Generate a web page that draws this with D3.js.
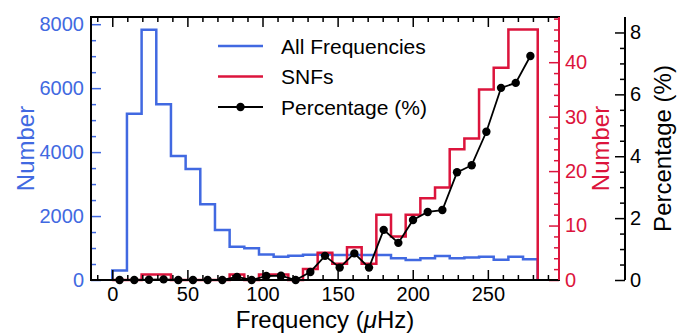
<!DOCTYPE html>
<html>
<head>
<meta charset="utf-8">
<script src="https://cdn.jsdelivr.net/npm/d3@7"></script>
<style>
  body { margin: 0; background: #fff; }
  text { font-family: "Liberation Sans", Arial, sans-serif; }
</style>
</head>
<body>
<div id="chart"></div>
<script>
// bin edges (uHz), 29 bins up to the Nyquist frequency
const binEdges = [0, 9.77, 19.53, 29.30, 39.06, 48.83, 58.59, 68.36, 78.12, 87.89,
    97.66, 107.42, 117.19, 126.95, 136.72, 146.48, 156.25, 166.01, 175.78, 185.54,
    195.31, 205.08, 214.84, 224.61, 234.37, 244.14, 253.90, 263.67, 273.43, 283.20];

// counts of all frequencies per bin
const allCounts = [300, 5200, 7830, 5500, 3880, 3470, 2370, 1560, 1040, 990,
    800, 730, 760, 790, 795, 780, 780, 780, 780, 680,
    625, 680, 750, 680, 700, 730, 630, 730, 650];

// counts of SNFs per bin
const snfCounts = [0, 0, 1, 1, 0, 0, 0, 0, 1, 0,
    1, 1, 0, 2, 5, 3, 6, 3, 12, 8,
    12, 15, 17, 24, 26, 35, 39, 46, 46];

// percentage per bin
const percent = [0, 0, 0.01, 0.02, 0, 0, 0, 0, 0.1, 0,
    0.13, 0.14, 0, 0.26, 0.78, 0.4, 0.86, 0.4, 1.62, 1.2,
    1.94, 2.2, 2.26, 3.48, 3.71, 4.79, 6.21, 6.37, 7.24];

const xMajor = [0, 50, 100, 150, 200, 250];
const leftMajor = [0, 2000, 4000, 6000, 8000];
const redMajor = [0, 10, 20, 30, 40];
const pctMajor = [0, 2, 4, 6, 8];
const legendLabels = ["All Frequencies", "SNFs", "Percentage (%)"];

const blue = "#4169e1", red = "#dc143c";
const W = 691, H = 336;
const plot = {left: 91, right: 559, top: 17, bottom: 280};
const pctAxisX = 625;

const svg = d3.select("#chart").append("svg")
    .attr("width", W).attr("height", H);

// scales
const x = d3.scaleLinear().domain([-14.16, 297.36]).range([plot.left, plot.right]);
const yL = d3.scaleLinear().domain([0, 8225]).range([plot.bottom, plot.top]);
const yR = d3.scaleLinear().domain([0, 48.3]).range([plot.bottom, plot.top]);
const yP = d3.scaleLinear().domain([0, 8.5]).range([plot.bottom, plot.top]);

// step outline like matplotlib histtype='step'
function stepPoints(counts) {
    let pts = [[binEdges[0], 0]];
    counts.forEach((c, i) => {
        pts.push([binEdges[i], c]);
        pts.push([binEdges[i + 1], c]);
    });
    pts.push([binEdges[binEdges.length - 1], 0]);
    return pts;
}

svg.append("path")
    .datum(stepPoints(allCounts))
    .attr("fill", "none").attr("stroke", blue).attr("stroke-width", 2.5)
    .attr("d", d3.line().x(d => x(d[0])).y(d => yL(d[1])));

svg.append("path")
    .datum(stepPoints(snfCounts))
    .attr("fill", "none").attr("stroke", red).attr("stroke-width", 2.5)
    .attr("d", d3.line().x(d => x(d[0])).y(d => yR(d[1])));

// percentage line with markers
const centers = percent.map((p, i) => [(binEdges[i] + binEdges[i + 1]) / 2, p]);
svg.append("path")
    .datum(centers)
    .attr("fill", "none").attr("stroke", "#000").attr("stroke-width", 1.8)
    .attr("d", d3.line().x(d => x(d[0])).y(d => yP(d[1])));
svg.selectAll(".pt").data(centers).enter().append("circle")
    .attr("cx", d => x(d[0])).attr("cy", d => yP(d[1]))
    .attr("r", 4.2).attr("fill", "#000");

// axes helpers
function styleAxis(g, color, fontSize) {
    g.select(".domain").remove();
    g.selectAll("line").attr("stroke", color).attr("stroke-width", 1.5);
    g.selectAll("text").attr("fill", color)
        .style("font-size", fontSize + "px")
        .style("font-family", "'Liberation Sans', Arial, sans-serif");
}

const xMinor = d3.range(-10, 291, 10).filter(v => v % 50 !== 0);

// bottom x axis
svg.append("g").attr("transform", `translate(0,${plot.bottom})`)
    .call(d3.axisBottom(x).tickValues(xMajor).tickSize(-10).tickPadding(7).tickFormat(d3.format("d")))
    .call(g => styleAxis(g, "#000", 20));
svg.append("g").attr("transform", `translate(0,${plot.bottom})`)
    .call(d3.axisBottom(x).tickValues(xMinor).tickSize(-5).tickFormat(""))
    .call(g => styleAxis(g, "#000", 20));
// top x ticks
svg.append("g").attr("transform", `translate(0,${plot.top})`)
    .call(d3.axisTop(x).tickValues(xMajor).tickSize(-10).tickFormat(""))
    .call(g => styleAxis(g, "#000", 20));
svg.append("g").attr("transform", `translate(0,${plot.top})`)
    .call(d3.axisTop(x).tickValues(xMinor).tickSize(-5).tickFormat(""))
    .call(g => styleAxis(g, "#000", 20));

// left axis (blue)
svg.append("g").attr("transform", `translate(${plot.left},0)`)
    .call(d3.axisLeft(yL).tickValues(leftMajor).tickSize(-10).tickPadding(7).tickFormat(d3.format("d")))
    .call(g => styleAxis(g, blue, 20));
svg.append("g").attr("transform", `translate(${plot.left},0)`)
    .call(d3.axisLeft(yL).tickValues(d3.range(500, 8001, 500).filter(v => v % 2000 !== 0)).tickSize(-5).tickFormat(""))
    .call(g => styleAxis(g, blue, 20));

// right axis (red)
svg.append("g").attr("transform", `translate(${plot.right},0)`)
    .call(d3.axisRight(yR).tickValues(redMajor).tickSize(-10).tickPadding(6).tickFormat(d3.format("d")))
    .call(g => styleAxis(g, red, 20));
svg.append("g").attr("transform", `translate(${plot.right},0)`)
    .call(d3.axisRight(yR).tickValues(d3.range(2, 49, 2).filter(v => v % 10 !== 0)).tickSize(-5).tickFormat(""))
    .call(g => styleAxis(g, red, 20));

// percentage axis (black, offset)
svg.append("g").attr("transform", `translate(${pctAxisX},0)`)
    .call(d3.axisRight(yP).tickValues(pctMajor).tickSize(-10).tickPadding(5).tickFormat(d3.format("d")))
    .call(g => styleAxis(g, "#000", 20));
svg.append("g").attr("transform", `translate(${pctAxisX},0)`)
    .call(d3.axisRight(yP).tickValues(d3.range(0.5, 8, 0.5).filter(v => v % 2 !== 0)).tickSize(-5).tickFormat(""))
    .call(g => styleAxis(g, "#000", 20));

// spines
svg.append("rect")
    .attr("x", plot.left).attr("y", plot.top)
    .attr("width", plot.right - plot.left).attr("height", plot.bottom - plot.top)
    .attr("fill", "none").attr("stroke", "#000").attr("stroke-width", 2);
svg.append("line")
    .attr("x1", plot.right).attr("x2", plot.right).attr("y1", plot.top).attr("y2", plot.bottom)
    .attr("stroke", red).attr("stroke-width", 2);
svg.append("line")
    .attr("x1", pctAxisX).attr("x2", pctAxisX).attr("y1", plot.top).attr("y2", plot.bottom)
    .attr("stroke", "#000").attr("stroke-width", 2);

// axis labels
svg.append("text")
    .attr("transform", `translate(25,${(plot.top + plot.bottom) / 2}) rotate(-90)`)
    .attr("text-anchor", "middle").attr("dominant-baseline", "central")
    .attr("fill", blue).style("font-size", "24px").text("Number");
svg.append("text")
    .attr("transform", `translate(600,${(plot.top + plot.bottom) / 2}) rotate(-90)`)
    .attr("text-anchor", "middle").attr("dominant-baseline", "central")
    .attr("fill", red).style("font-size", "24px").text("Number");
svg.append("text")
    .attr("transform", `translate(662,${(plot.top + plot.bottom) / 2}) rotate(-90)`)
    .attr("text-anchor", "middle").attr("dominant-baseline", "central")
    .attr("fill", "#000").style("font-size", "24px").text("Percentage (%)");
const xl = svg.append("text")
    .attr("x", (plot.left + plot.right) / 2).attr("y", 328)
    .attr("text-anchor", "middle").attr("fill", "#000").style("font-size", "24px");
xl.append("tspan").text("Frequency (");
xl.append("tspan").style("font-style", "italic").text("\u03bc");
xl.append("tspan").text("Hz)");

// legend
const legendColors = [blue, red, "#000"];
const legend = svg.append("g");
legendLabels.forEach((lab, i) => {
    const yy = 46 + i * 30.5;
    legend.append("line")
        .attr("x1", 218).attr("x2", 263).attr("y1", yy).attr("y2", yy)
        .attr("stroke", legendColors[i]).attr("stroke-width", i === 2 ? 1.8 : 2.5);
    if (i === 2) {
        legend.append("circle").attr("cx", 240.5).attr("cy", yy).attr("r", 4.2).attr("fill", "#000");
    }
    legend.append("text")
        .attr("x", 281).attr("y", yy).attr("dominant-baseline", "central")
        .attr("fill", "#000").style("font-size", "21px").text(lab);
});
</script>
</body>
</html>
